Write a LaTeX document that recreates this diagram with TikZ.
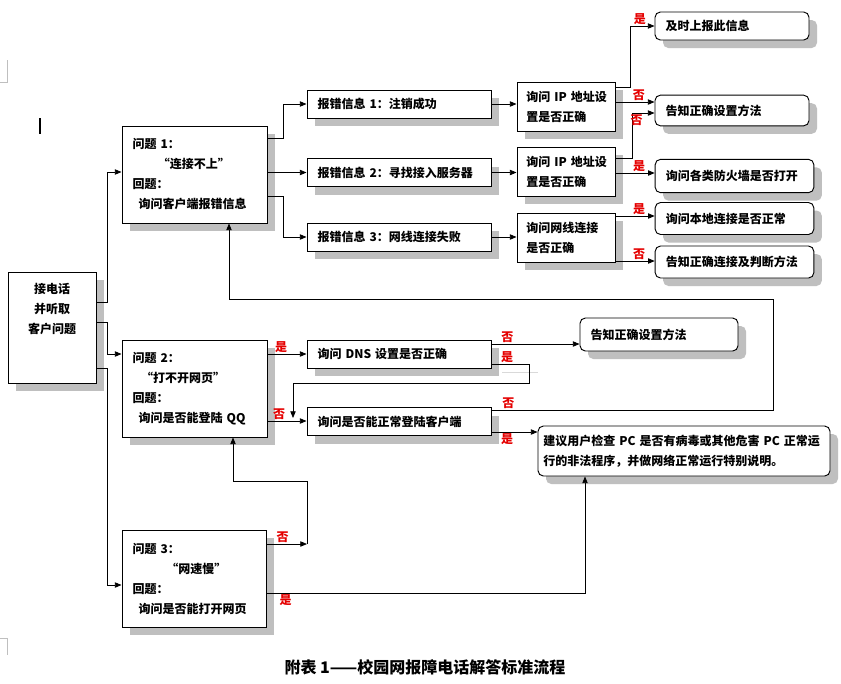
\documentclass[tikz,border=0pt]{standalone}
\usepackage{fontspec}
\setmainfont{Noto Sans CJK SC}
\usetikzlibrary{arrows.meta,shadows}

\begin{document}
\begin{tikzpicture}[x=0.75pt,y=-0.75pt,
    font=\fontsize{9}{15}\selectfont\bfseries,
    arr/.style={-{Triangle[length=5pt,width=4pt]},line width=0.6pt},
    shbox/.style={draw,fill=white,line width=0.7pt,inner xsep=8pt,inner ysep=2pt,align=left,
      drop shadow={shadow xshift=6pt,shadow yshift=-6pt,fill=gray!50,opacity=1}},
    qbox/.style={shbox,text width=92.75pt,minimum height=72.75pt},
    msgbox/.style={shbox,text width=122pt,minimum height=21pt},
    askbox/.style={shbox,inner xsep=7pt,text width=59.5pt,minimum height=36.75pt},
    resbox/.style={shbox,rounded corners=4pt,minimum height=23pt},
    lab/.style={text=red!90!black,inner sep=1pt}]
  \fill[white] (0,0) rectangle (841,683);
  \useasboundingbox (0,0) rectangle (841,683);
  % page marks and cursor
  \draw[gray!50] (7,60) -- (7,82) -- (0,82);
  \draw[gray!50] (0,638) -- (7,638) -- (7,655);
  \draw[line width=1.2pt] (40,118) -- (40,134);
  \draw[gray!30] (502,372) -- (538,372);

  \node[shbox,align=center,text width=50pt,minimum height=83.25pt] (start) at (52,327.5)
    {接电话\\并听取\\客户问题\\[14pt]\mbox{}};

  % question 1
  \node[qbox] (q1) at (194.5,174.5)
    {问题 1：\\\hspace*{2.1em}“连接不上”\\回题：\\\hspace*{0.5em}询问客户端报错信息};
  \node[msgbox] (msg1) at (399,104) {报错信息 1：注销成功};
  \node[msgbox] (msg2) at (399,172.5) {报错信息 2：寻找接入服务器};
  \node[msgbox] (msg3) at (399,237) {报错信息 3：网线连接失败};
  \node[askbox] (ask1) at (566,106.5) {询问~IP~地址设\\置是否正确};
  \node[askbox] (ask2) at (566,171.5) {询问~IP~地址设\\置是否正确};
  \node[askbox] (ask3) at (566,237.5) {询问网线连接\\是否正确};
  \node[resbox,text width=99.5pt,minimum height=21pt] (res1) at (732,26) {及时上报此信息};
  \node[resbox,text width=99.5pt] (res2) at (732,110.5) {告知正确设置方法};
  \node[resbox,text width=103pt,minimum height=25pt] (res3) at (734.5,176) {询问各类防火墙是否打开};
  \node[resbox,text width=103pt,minimum height=24pt] (res4) at (734.5,218.5) {询问本地连接是否正常};
  \node[resbox,text width=103pt,minimum height=24pt] (res5) at (734.5,262) {告知正确连接及判断方法};

  % question 2
  \node[qbox] (q2) at (194.5,388.5)
    {问题 2：\\\hspace*{0.7em}“打不开网页”\\回题：\\\hspace*{0.5em}询问是否能登陆 QQ};
  \node[msgbox] (dns) at (399,354) {询问 DNS 设置是否正确};
  \node[msgbox] (client) at (399,421.5) {询问是否能正常登陆客户端};
  \node[resbox,text width=102.5pt,minimum height=24.75pt] (tell2) at (659,334.5) {告知正确设置方法};
  \node[resbox,inner xsep=4pt,text width=211pt,minimum height=37.5pt] (advice) at (684,451)
    {建议用户检查~PC~是否有病毒或其他危害~PC~正常运\\行的非法程序，并做网络正常运行特别说明。};

  % question 3
  \node[qbox,text width=92pt] (q3) at (194,578.5)
    {问题 3：\\\hspace*{2.8em}“网速慢”\\回题：\\\hspace*{0.5em}询问是否能打开网页};

  \node[font=\fontsize{12}{14}\selectfont\bfseries] (cap) at (425,667)
    {附表 1——校园网报障电话解答标准流程};

  % start to questions
  \draw[arr] (start.east |- 0,302) -| (107,172) -- (q1.west |- 0,172);
  \draw[arr] (start.east |- 0,322) -| (107,354) -- (q2.west |- 0,354);
  \draw[arr] (start.east |- 0,368) -| (107,585) -- (q3.west |- 0,585);

  % question 1 branches
  \draw[arr] (q1.east |- 0,138) -| (283,104) -- (msg1);
  \draw[arr] (q1.east |- msg2) -- (msg2);
  \draw[arr] (q1.east |- 0,196) -| (283,237) -- (msg3);
  \foreach \i in {1,2,3}
    \draw[arr] (msg\i) -- (ask\i.west |- msg\i);
  \draw[arr] (ask1.east |- 0,87) -| (630,26) -- node[lab,above,pos=0.4]{是} (res1);
  \draw[arr] (ask1.east |- 0,102) -- node[lab,above,pos=0.6]{否} (res2.west |- 0,102);
  \draw[arr] (ask2.east |- 0,158) -| (632,113) -- node[lab,below,pos=0.2]{否} (res2.west |- 0,113);
  \draw[arr] (ask2.east |- 0,173) -- node[lab,above,pos=0.6]{是} (res3.west |- 0,173);
  \draw[arr] (ask3.east |- 0,216) -- node[lab,above,pos=0.6]{是} (res4.west |- 0,216);
  \draw[arr] (ask3.east |- 0,261) -- node[lab,above,pos=0.6]{否} (res5.west |- 0,261);

  % question 2 branches
  \coordinate (dnsyes) at (293,418);
  \draw[arr] (q2.east |- dns) -- node[lab,above,pos=0.35]{是} (dns);
  \draw[arr] (q2.east |- 0,421) -- node[lab,above,pos=0.3]{否} (client.west |- 0,421);
  \draw[arr] (dns.east |- 0,344) -- node[lab,above,pos=0.18]{否} (tell2.west |- 0,344);
  \draw[arr] (dns.east |- 0,364) -- node[lab,above,pos=0.42]{是} (529,364) |- (293,383) -- (dnsyes);
  \draw[arr] (client.east |- 0,410) -- node[lab,above,pos=0.06]{否} (773,410) |- (229,299)
    -- (q1.south -| 229,0);
  \draw[arr] (client.east |- 0,432) -- node[lab,below,pos=0.34]{是} (advice.west |- 0,432);

  % question 3 branches
  \coordinate (q3no) at (307,544);
  \draw[arr] (q3.east |- q3no) -- node[lab,above,pos=0.4]{否} (q3no);
  \draw[arr] (q3no) |- (233,481) -- (q2.south -| 233,0);
  \draw[arr] (q3.east |- 0,593) -| node[lab,below,pos=0.03]{是} (advice.south -| 585,0);
\end{tikzpicture}
\end{document}
